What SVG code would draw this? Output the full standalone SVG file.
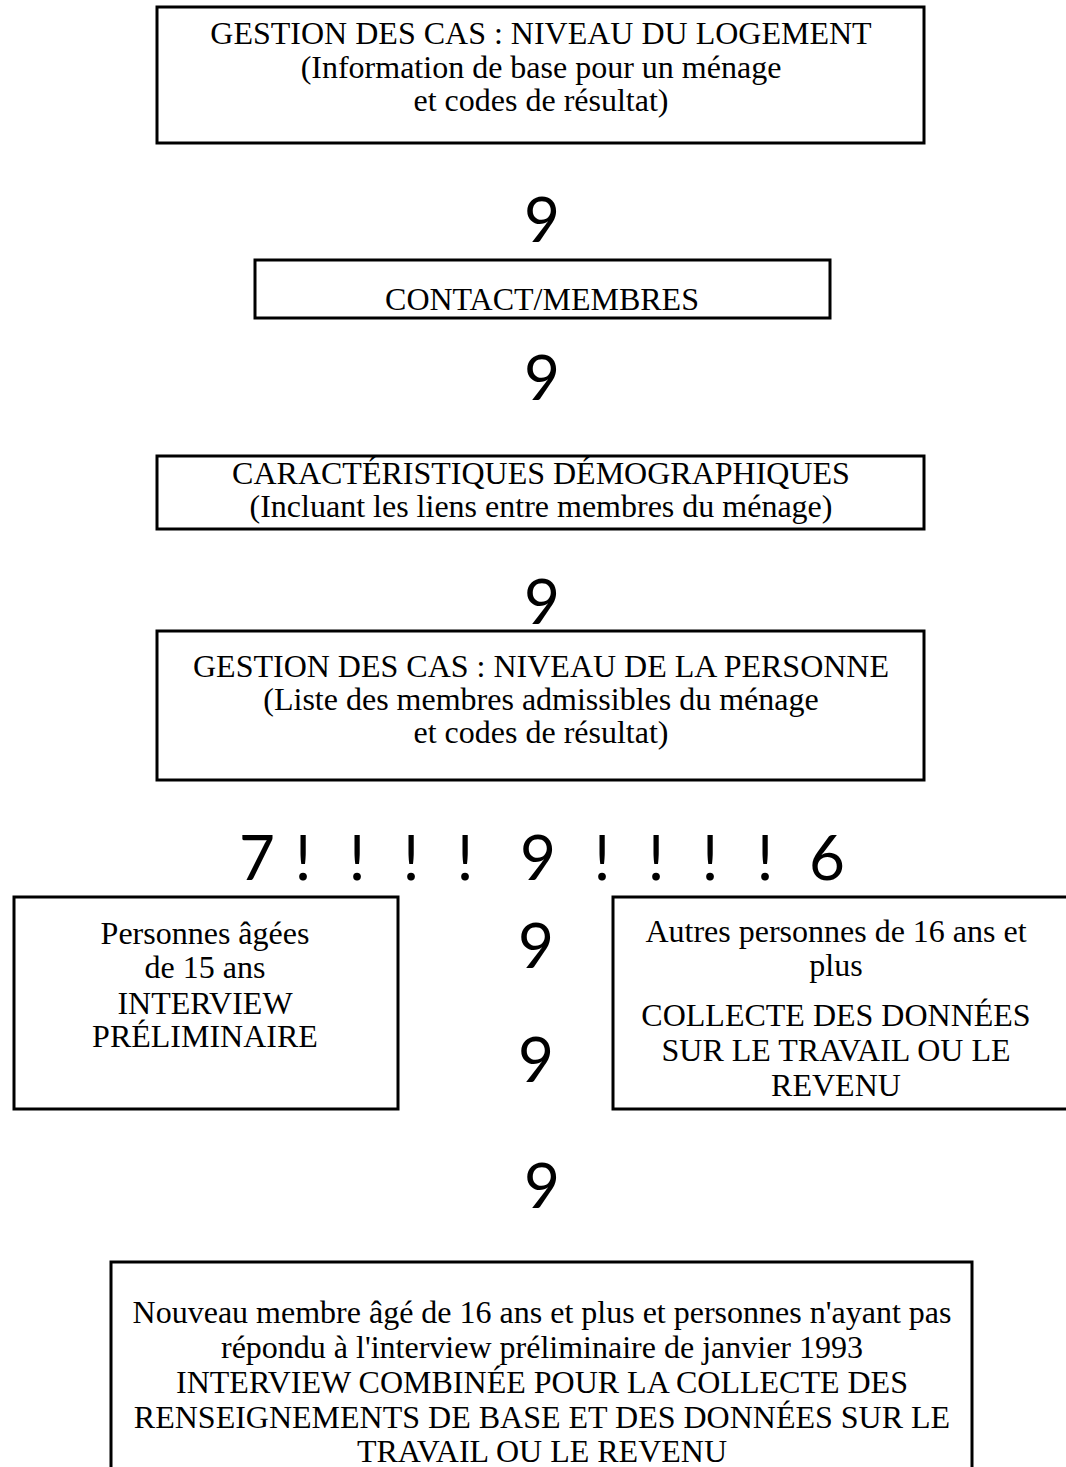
<svg xmlns="http://www.w3.org/2000/svg" width="1066" height="1467" viewBox="0 0 1066 1467">
<style>
.box{fill:#fff;stroke:#000;stroke-width:3}
.t{font-family:"Liberation Serif","Times New Roman",serif;font-size:32px;fill:#000;text-anchor:middle}
.a{font-family:Lato,"Open Sans",sans-serif;font-size:62px;fill:#000;text-anchor:middle}
</style>
<rect width="1066" height="1467" fill="#fff"/>
<g id="connectors">
<text class="a" x="542" y="242">9</text>
<text class="a" x="542" y="400">9</text>
<text class="a" x="542" y="624">9</text>
<text class="a" x="257" y="880">7</text>
<text class="a" x="303" y="880">!</text>
<text class="a" x="357" y="880">!</text>
<text class="a" x="411" y="880">!</text>
<text class="a" x="465" y="880">!</text>
<text class="a" x="538" y="880">9</text>
<text class="a" x="602" y="880">!</text>
<text class="a" x="656" y="880">!</text>
<text class="a" x="710" y="880">!</text>
<text class="a" x="765" y="880">!</text>
<text class="a" x="827" y="880">6</text>
<text class="a" x="536" y="968">9</text>
<text class="a" x="536" y="1082">9</text>
<text class="a" x="542" y="1208">9</text>
</g>
<g id="node-logement">
<rect class="box" x="157" y="7" width="767" height="136"/>
<text class="t" x="541" y="44">GESTION DES CAS : NIVEAU DU LOGEMENT</text>
<text class="t" x="541" y="78">(Information de base pour un ménage</text>
<text class="t" x="541" y="111">et codes de résultat)</text>
</g>
<g id="node-contact">
<rect class="box" x="255" y="260" width="575" height="58"/>
<text class="t" x="542" y="310">CONTACT/MEMBRES</text>
</g>
<g id="node-demo">
<rect class="box" x="157" y="456" width="767" height="73"/>
<text class="t" x="541" y="484">CARACTÉRISTIQUES DÉMOGRAPHIQUES</text>
<text class="t" x="541" y="517">(Incluant les liens entre membres du ménage)</text>
</g>
<g id="node-personne">
<rect class="box" x="157" y="631" width="767" height="149"/>
<text class="t" x="541" y="677">GESTION DES CAS : NIVEAU DE LA PERSONNE</text>
<text class="t" x="541" y="710">(Liste des membres admissibles du ménage</text>
<text class="t" x="541" y="743">et codes de résultat)</text>
</g>
<g id="node-15ans">
<rect class="box" x="14" y="897" width="384" height="212"/>
<text class="t" x="205" y="944">Personnes âgées</text>
<text class="t" x="205" y="978">de 15 ans</text>
<text class="t" x="205" y="1014">INTERVIEW</text>
<text class="t" x="205" y="1047">PRÉLIMINAIRE</text>
</g>
<g id="node-16ans">
<rect class="box" x="613" y="897" width="460" height="212"/>
<text class="t" x="836" y="942">Autres personnes de 16 ans et</text>
<text class="t" x="836" y="976">plus</text>
<text class="t" x="836" y="1026">COLLECTE DES DONNÉES</text>
<text class="t" x="836" y="1061">SUR LE TRAVAIL OU LE</text>
<text class="t" x="836" y="1096">REVENU</text>
</g>
<g id="node-nouveau">
<rect class="box" x="111" y="1262" width="861" height="220"/>
<text class="t" x="542" y="1323">Nouveau membre âgé de 16 ans et plus et personnes n'ayant pas</text>
<text class="t" x="542" y="1358">répondu à l'interview préliminaire de janvier 1993</text>
<text class="t" x="542" y="1393">INTERVIEW COMBINÉE POUR LA COLLECTE DES</text>
<text class="t" x="542" y="1428">RENSEIGNEMENTS DE BASE ET DES DONNÉES SUR LE</text>
<text class="t" x="542" y="1462">TRAVAIL OU LE REVENU</text>
</g>
</svg>
